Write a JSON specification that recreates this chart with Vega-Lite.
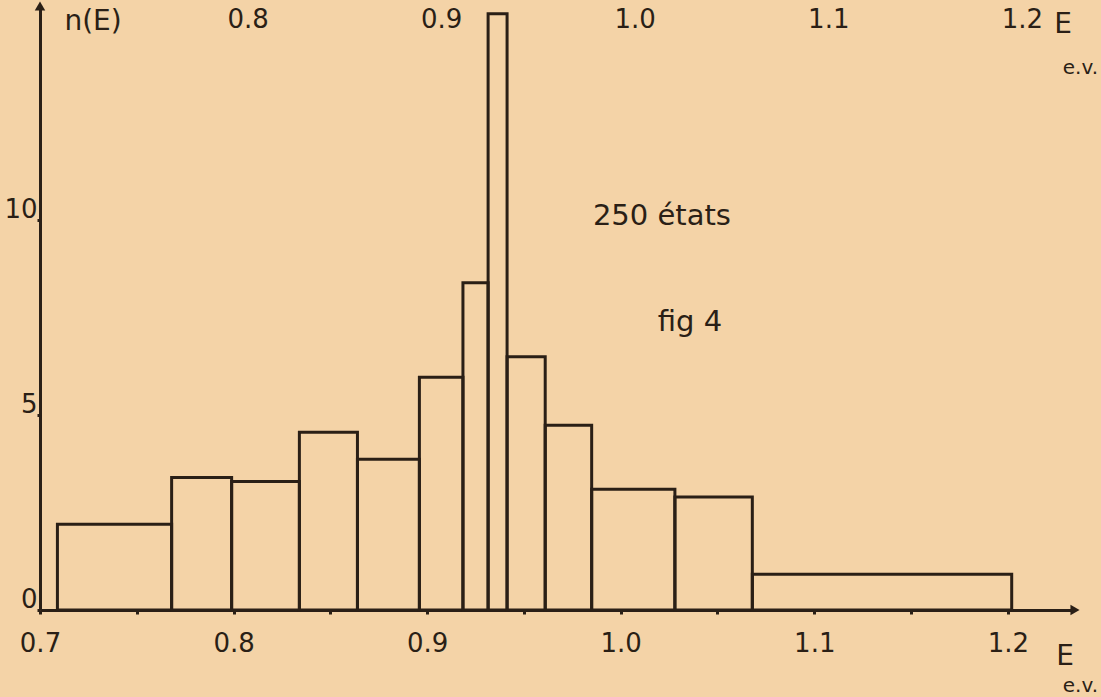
{
  "$schema": "https://vega.github.io/schema/vega-lite/v6.json",
  "width": 1035,
  "height": 604,
  "autosize": {"type": "none"},
  "padding": {"left": 40, "top": 6, "right": 26, "bottom": 87},
  "background": "#f4d3a7",
  "config": {
    "view": {"stroke": null},
    "font": "DejaVu Sans",
    "axisY": {"labelFontSize": 26, "labelColor": "#2a1f16", "labelPadding": 0,
      "labelBaseline": "alphabetic", "labelOffset": -3, "grid": false,
      "tickSize": 3, "tickWidth": 3, "tickColor": "#2a1f16",
      "domainWidth": 3, "domainColor": "#2a1f16", "title": null}
  },
  "resolve": {"axis": {"x": "independent"}},
  "layer": [
    {
      "data": {"values": [
        {"e0": 0.709, "e1": 0.768, "n": 2.2},
        {"e0": 0.768, "e1": 0.799, "n": 3.4},
        {"e0": 0.799, "e1": 0.834, "n": 3.3},
        {"e0": 0.834, "e1": 0.864, "n": 4.56},
        {"e0": 0.864, "e1": 0.896, "n": 3.87},
        {"e0": 0.896, "e1": 0.9185, "n": 5.97},
        {"e0": 0.9185, "e1": 0.9315, "n": 8.4},
        {"e0": 0.9315, "e1": 0.9413, "n": 15.3},
        {"e0": 0.9413, "e1": 0.961, "n": 6.5},
        {"e0": 0.961, "e1": 0.985, "n": 4.74},
        {"e0": 0.985, "e1": 1.028, "n": 3.1},
        {"e0": 1.028, "e1": 1.068, "n": 2.9},
        {"e0": 1.068, "e1": 1.202, "n": 0.92}
      ]},
      "mark": {"type": "rect", "fill": "#f4d3a7", "fillOpacity": 0, "stroke": "#2a1f16", "strokeWidth": 3},
      "encoding": {
        "x": {"field": "e0", "type": "quantitative",
          "scale": {"domain": [0.7, 1.2347], "nice": false, "zero": false},
          "axis": {"orient": "bottom", "title": null, "grid": false,
            "values": [0.7, 0.75, 0.8, 0.85, 0.9, 0.95, 1.0, 1.05, 1.1, 1.15, 1.2],
            "labelExpr": "round(datum.value*100) % 10 === 0 ? format(datum.value, '.1f') : ''",
            "tickSize": 4, "tickWidth": 3, "tickColor": "#2a1f16",
            "domainWidth": 3, "domainColor": "#2a1f16",
            "labelFontSize": 26, "labelColor": "#2a1f16", "labelPadding": 16,
            "labelFlush": false, "labelOverlap": false}},
        "x2": {"field": "e1"},
        "y": {"field": "n", "type": "quantitative",
          "scale": {"domain": [0, 15.5], "nice": false},
          "axis": {"title": null, "values": [0, 5, 10], "labelFontSize": 26}},
        "y2": {"datum": 0}
      }
    },
    {
      "data": {"values": [{"v": 0.8}, {"v": 1.2}]},
      "mark": {"type": "point", "opacity": 0},
      "encoding": {
        "x": {"field": "v", "type": "quantitative",
          "axis": {"orient": "top", "title": null, "grid": false,
            "values": [0.8, 0.9, 1.0, 1.1, 1.2], "format": ".1f",
            "domain": false, "ticks": false,
            "labelFontSize": 26, "labelColor": "#2a1f16",
            "labelPadding": -26, "labelOffset": 14, "labelFlush": false}},
        "y": {"datum": 5, "type": "quantitative"}
      }
    },
    {
      "data": {"values": [{}]},
      "mark": {"type": "point", "shape": "triangle-up", "filled": true, "color": "#2a1f16", "size": 110, "opacity": 1},
      "encoding": {"x": {"datum": 0.7, "type": "quantitative", "axis": null}, "y": {"datum": 15.5, "type": "quantitative"}}
    },
    {
      "data": {"values": [{}]},
      "mark": {"type": "point", "shape": "triangle-right", "filled": true, "color": "#2a1f16", "size": 110, "opacity": 1},
      "encoding": {"x": {"datum": 1.2347, "type": "quantitative", "axis": null}, "y": {"datum": 0, "type": "quantitative"}}
    },
    {
      "data": {"values": [{}]},
      "mark": {"type": "text", "text": "250 états", "fontSize": 29, "color": "#2a1f16", "align": "center", "baseline": "middle"},
      "encoding": {"x": {"datum": 1.0213, "type": "quantitative", "axis": null}, "y": {"datum": 10.1, "type": "quantitative"}}
    },
    {
      "data": {"values": [{}]},
      "mark": {"type": "text", "text": "fig 4", "fontSize": 29, "color": "#2a1f16", "align": "center", "baseline": "middle"},
      "encoding": {"x": {"datum": 1.0358, "type": "quantitative", "axis": null}, "y": {"datum": 7.4, "type": "quantitative"}}
    },
    {
      "data": {"values": [{}]},
      "mark": {"type": "text", "text": "n(E)", "fontSize": 28, "color": "#2a1f16", "align": "center", "baseline": "middle"},
      "encoding": {"x": {"datum": 0.7274, "type": "quantitative", "axis": null}, "y": {"datum": 15.1, "type": "quantitative"}}
    },
    {
      "data": {"values": [{}]},
      "mark": {"type": "text", "text": "E", "fontSize": 28, "color": "#2a1f16", "align": "center", "baseline": "middle"},
      "encoding": {"x": {"datum": 1.2296, "type": "quantitative", "axis": null}, "y": {"datum": -1.2, "type": "quantitative"}}
    },
    {
      "data": {"values": [{}]},
      "mark": {"type": "text", "text": "e.v.", "fontSize": 20, "color": "#2a1f16", "align": "center", "baseline": "middle"},
      "encoding": {"x": {"datum": 1.2375, "type": "quantitative", "axis": null}, "y": {"datum": -1.95, "type": "quantitative"}}
    },
    {
      "data": {"values": [{}]},
      "mark": {"type": "text", "text": "E", "fontSize": 28, "color": "#2a1f16", "align": "center", "baseline": "middle"},
      "encoding": {"x": {"datum": 1.2285, "type": "quantitative", "axis": null}, "y": {"datum": 15.0, "type": "quantitative"}}
    },
    {
      "data": {"values": [{}]},
      "mark": {"type": "text", "text": "e.v.", "fontSize": 20, "color": "#2a1f16", "align": "center", "baseline": "middle"},
      "encoding": {"x": {"datum": 1.2375, "type": "quantitative", "axis": null}, "y": {"datum": 13.9, "type": "quantitative"}}
    }
  ]
}
